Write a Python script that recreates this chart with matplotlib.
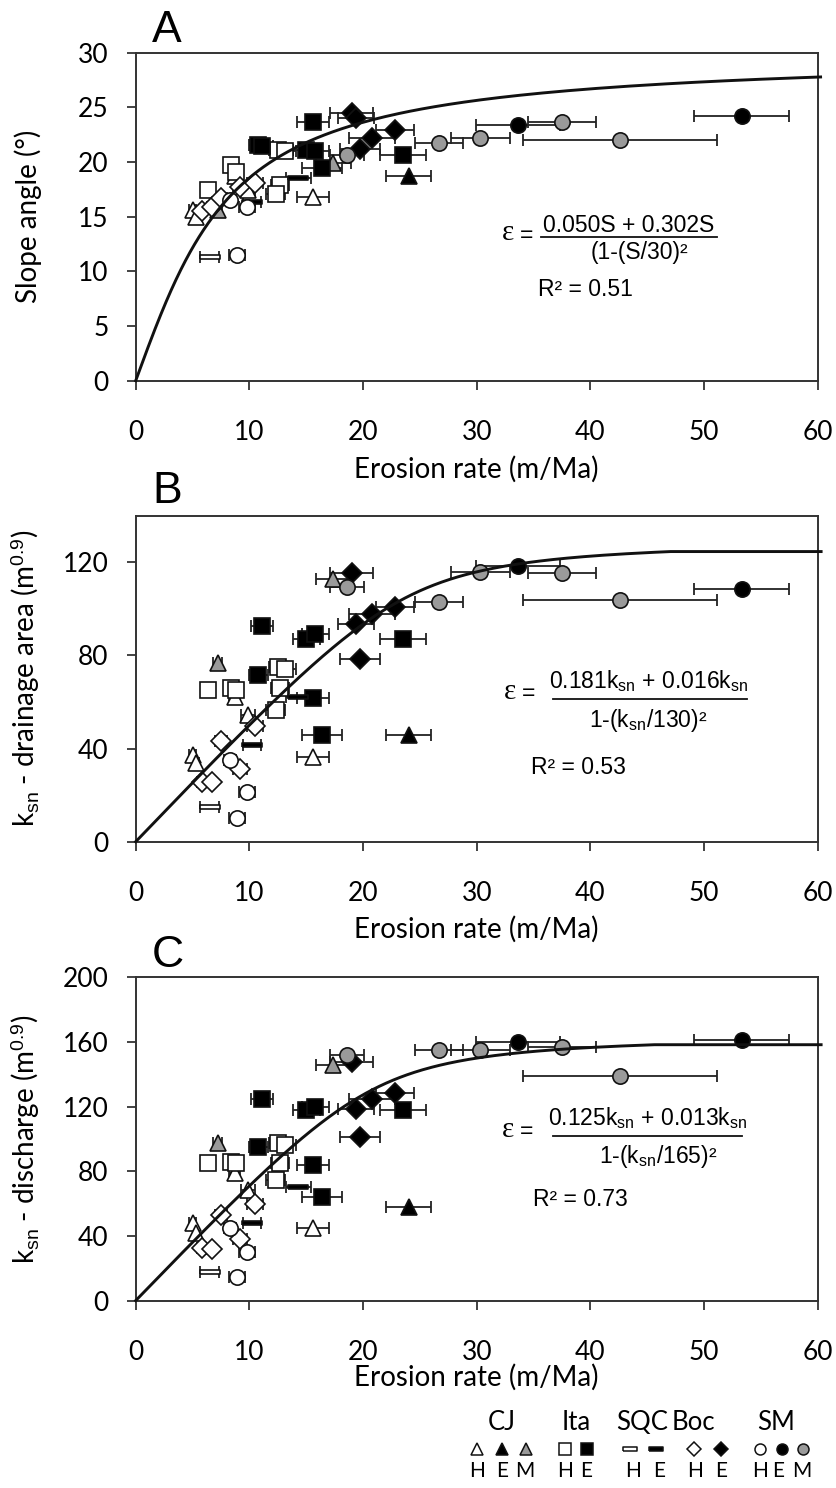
import numpy as np
import matplotlib
matplotlib.use('Agg')
import matplotlib.pyplot as plt

plt.rcParams['font.family'] = ['Lato', 'DejaVu Sans']
plt.rcParams['mathtext.fontset'] = 'custom'
plt.rcParams['mathtext.rm'] = 'Liberation Sans'
plt.rcParams['mathtext.it'] = 'Liberation Sans:italic'

# ---------------- data (erosion rate, error, slope, ksn-area, ksn-discharge) -------------
CJ_H_x = [5.0, 5.3, 8.7, 9.9, 15.6]
CJ_H_err = [0.3, 0.3, 0.5, 0.6, 1.4]
CJ_H_slope = [15.6, 15.0, 18.7, 17.4, 16.8]
CJ_H_ksnA = [37.2, 33.6, 62.0, 54.3, 36.4]
CJ_H_ksnQ = [48.2, 41.6, 78.7, 68.4, 44.7]

CJ_E_x = [24.0]
CJ_E_err = [1.95]
CJ_E_slope = [18.7]
CJ_E_ksnA = [45.7]
CJ_E_ksnQ = [58.1]

CJ_M_x = [7.2, 17.4]
CJ_M_err = [0.4, 1.5]
CJ_M_slope = [15.6, 19.9]
CJ_M_ksnA = [76.7, 112.9]
CJ_M_ksnQ = [97.3, 145.7]

Ita_H_x = [6.4, 8.4, 8.8, 12.5, 13.1, 12.7, 12.3]
Ita_H_err = [0.4, 0.5, 0.5, 0.8, 1.0, 0.8, 0.8]
Ita_H_slope = [17.4, 19.7, 19.1, 21.1, 21.0, 17.9, 17.1]
Ita_H_ksnA = [65.3, 66.2, 65.3, 75.0, 74.3, 66.2, 56.7]
Ita_H_ksnQ = [85.3, 85.9, 85.0, 97.7, 96.2, 85.3, 74.6]

Ita_E_x = [10.8, 11.1, 15.0, 15.8, 15.6, 16.4, 23.5]
Ita_E_err = [0.8, 1.0, 1.2, 1.2, 1.4, 1.75, 2.0]
Ita_E_slope = [21.6, 21.5, 21.1, 21.0, 23.7, 19.5, 20.6]
Ita_E_ksnA = [71.4, 92.7, 87.2, 89.3, 61.9, 45.7, 87.2]
Ita_E_ksnQ = [95.2, 124.5, 117.9, 119.5, 83.9, 64.3, 117.9]

SQC_H_x = [6.5]
SQC_H_err = [0.85]
SQC_H_slope = [11.3]
SQC_H_ksnA = [15.0]
SQC_H_ksnQ = [17.9]

SQC_E_x = [10.2, 14.3]
SQC_E_err = [0.8, 1.1]
SQC_E_slope = [16.3, 18.5]
SQC_E_ksnA = [41.4, 62.0]
SQC_E_ksnQ = [48.2, 70.4]

Boc_H_x = [5.8, 6.7, 7.5, 9.2, 10.5]
Boc_H_err = [0.4, 0.4, 0.5, 0.6, 0.7]
Boc_H_slope = [15.5, 15.9, 16.7, 17.7, 18.1]
Boc_H_ksnA = [25.7, 25.7, 43.3, 31.4, 49.6]
Boc_H_ksnQ = [32.3, 31.7, 52.9, 37.9, 59.7]

Boc_E_x = [19.0, 19.4, 20.8, 22.8, 19.7]
Boc_E_err = [1.9, 1.6, 2.0, 1.7, 1.75]
Boc_E_slope = [24.5, 24.0, 22.2, 22.9, 21.2]
Boc_E_ksnA = [115.3, 93.3, 97.6, 101.0, 78.6]
Boc_E_ksnQ = [147.8, 118.3, 124.5, 128.6, 101.4]

SM_H_x = [8.3, 9.8, 8.9]
SM_H_err = [0.5, 0.7, 0.7]
SM_H_slope = [16.5, 15.9, 11.5]
SM_H_ksnA = [35.3, 21.4, 10.0]
SM_H_ksnQ = [44.7, 30.2, 14.8]

SM_E_x = [33.6, 53.3]
SM_E_err = [3.7, 4.2]
SM_E_slope = [23.4, 24.2]
SM_E_ksnA = [118.6, 108.6]
SM_E_ksnQ = [160.0, 161.2]

SM_M_x = [18.6, 26.7, 30.3, 37.5, 42.6]
SM_M_err = [1.5, 2.1, 2.6, 3.0, 8.5]
SM_M_slope = [20.6, 21.7, 22.2, 23.7, 22.0]
SM_M_ksnA = [109.3, 102.9, 116.0, 115.3, 103.9]
SM_M_ksnQ = [151.9, 155.0, 155.0, 157.0, 139.0]

# fit parameters shown on chart: eps = a*y + b*y / (1 - (y/yc)^2)
fitA = (0.050, 0.302, 30.0, 27.78)
fitB = (0.181, 0.016, 130.0, 124.6)
fitC = (0.125, 0.013, 165.0, 158.3)

# ---------------- styles ----------------
GRAY = '#9a9a9a'
bar_marker = [(-1, -0.25), (1, -0.25), (1, 0.25), (-1, 0.25), (-1, -0.25)]
groups = [
    ('CJ', 'H', '^', 'white', 12, CJ_H_x, CJ_H_err, CJ_H_slope, CJ_H_ksnA, CJ_H_ksnQ),
    ('CJ', 'E', '^', 'black', 12, CJ_E_x, CJ_E_err, CJ_E_slope, CJ_E_ksnA, CJ_E_ksnQ),
    ('CJ', 'M', '^', GRAY, 12, CJ_M_x, CJ_M_err, CJ_M_slope, CJ_M_ksnA, CJ_M_ksnQ),
    ('Ita', 'H', 's', 'white', 11.5, Ita_H_x, Ita_H_err, Ita_H_slope, Ita_H_ksnA, Ita_H_ksnQ),
    ('Ita', 'E', 's', 'black', 11.5, Ita_E_x, Ita_E_err, Ita_E_slope, Ita_E_ksnA, Ita_E_ksnQ),
    ('SQC', 'H', bar_marker, 'white', 14, SQC_H_x, SQC_H_err, SQC_H_slope, SQC_H_ksnA, SQC_H_ksnQ),
    ('SQC', 'E', bar_marker, 'black', 14, SQC_E_x, SQC_E_err, SQC_E_slope, SQC_E_ksnA, SQC_E_ksnQ),
    ('Boc', 'H', 'D', 'white', 10.5, Boc_H_x, Boc_H_err, Boc_H_slope, Boc_H_ksnA, Boc_H_ksnQ),
    ('Boc', 'E', 'D', 'black', 10.5, Boc_E_x, Boc_E_err, Boc_E_slope, Boc_E_ksnA, Boc_E_ksnQ),
    ('SM', 'H', 'o', 'white', 11, SM_H_x, SM_H_err, SM_H_slope, SM_H_ksnA, SM_H_ksnQ),
    ('SM', 'E', 'o', 'black', 11, SM_E_x, SM_E_err, SM_E_slope, SM_E_ksnA, SM_E_ksnQ),
    ('SM', 'M', 'o', GRAY, 11, SM_M_x, SM_M_err, SM_M_slope, SM_M_ksnA, SM_M_ksnQ),
]

W, H = 836, 1488
fig = plt.figure(figsize=(W / 100, H / 100), dpi=100)


def rect(l, r, t, b):
    return [l / W, 1 - b / H, (r - l) / W, (b - t) / H]


axA = fig.add_axes(rect(135.7, 817.7, 52.7, 380.7))
axB = fig.add_axes(rect(135.7, 817.7, 515.7, 841.7))
axC = fig.add_axes(rect(135.7, 817.7, 977.3, 1300.6))
axes = [axA, axB, axC]

ylims = [(0, 30), (0, 140), (0, 200)]
yticks = [np.arange(0, 31, 5), np.arange(0, 121, 40), np.arange(0, 201, 40)]
ylabels = ['Slope angle (°)',
           r'k$_{\rm sn}$ - drainage area (m$^{\rm 0.9}$)',
           r'k$_{\rm sn}$ - discharge (m$^{\rm 0.9}$)']
fits = [fitA, fitB, fitC]

for i, ax in enumerate(axes):
    ax.set_xlim(0, 60)
    ax.set_ylim(*ylims[i])
    ax.set_xticks(np.arange(0, 61, 10))
    ax.set_yticks(yticks[i])
    ax.tick_params(direction='out', length=6.5, width=1.2, labelsize=19,
                   top=False, right=False, color='#222222')
    ax.tick_params(axis='x', pad=22)
    ax.tick_params(axis='y', pad=13)
    for sp in ax.spines.values():
        sp.set_linewidth(1.4)
        sp.set_color('#333333')
    ax.set_xlabel('Erosion rate (m/Ma)', fontsize=20)
    ax.set_ylabel(ylabels[i], fontsize=20)
    ax.yaxis.set_label_coords(-0.137, 0.5)

    for g in groups:
        name, sub, mk, fc, ms, xs, xe, s, ka, kq = g
        yv = [s, ka, kq][i]
        ax.errorbar(xs, yv, xerr=xe, fmt='none', ecolor='#222222',
                    elinewidth=1.3, capsize=4.2, capthick=1.3, zorder=2)
        ax.plot(xs, yv, linestyle='none', marker=mk, markersize=ms,
                markerfacecolor=fc, markeredgecolor='#111111',
                markeredgewidth=1.2, zorder=3)

    a, b, yc, ymax = fits[i]
    yy = np.linspace(0, ymax, 400)
    xx = a * yy + b * yy / (1 - (yy / yc) ** 2)
    keep = xx <= 60.3
    xx, yy = xx[keep], yy[keep]
    if i > 0:
        xx = np.append(xx, 60.3)
        yy = np.append(yy, yy[-1])
    ax.plot(xx, yy, color='#111111', lw=2.1, zorder=4, clip_on=False)

axA.xaxis.set_label_coords(0.5, -0.228)
axB.xaxis.set_label_coords(0.5, -0.228)
axC.xaxis.set_label_coords(0.5, -0.196)

# panel letters
for lab, ypx in [('A', 42), ('B', 503), ('C', 967)]:
    fig.text(152 / W, 1 - ypx / H, lab, fontsize=32, family='Liberation Sans',
             ha='left', va='baseline')


def ftext(x, y, s, **kw):
    fig.text(x / W, 1 - y / H, s, **kw)


def fbar(x0, x1, y):
    fig.add_artist(plt.Line2D([x0 / W, x1 / W], [1 - y / H, 1 - y / H],
                              color='#111111', lw=1.3, transform=fig.transFigure))


EQ = dict(family='Liberation Sans', fontsize=16.5, ha='center', va='center')
EPS = dict(family='Liberation Serif', fontsize=21, ha='center', va='center')

# equation A
ftext(508, 233, 'ε', **EPS)
ftext(527, 236, '=', **EQ)
ftext(629, 226, '0.050S + 0.302S', **EQ)
fbar(541, 717, 237)
ftext(639, 252, '(1-(S/30)²', **EQ)
ftext(585, 290, 'R² = 0.51', **EQ)

# equation B
ftext(510, 692, 'ε', **EPS)
ftext(529, 694, '=', **EQ)
ftext(649, 681, r'0.181k$_{\rm sn}$ + 0.016k$_{\rm sn}$', **EQ)
fbar(553, 747, 699)
ftext(648, 720, r'1-(k$_{\rm sn}$/130)²', **EQ)
ftext(578, 768, 'R² = 0.53', **EQ)

# equation C
ftext(508, 1130, 'ε', **EPS)
ftext(527, 1132, '=', **EQ)
ftext(648, 1118, r'0.125k$_{\rm sn}$ + 0.013k$_{\rm sn}$', **EQ)
fbar(553, 742, 1136)
ftext(658, 1156, r'1-(k$_{\rm sn}$/165)²', **EQ)
ftext(580, 1200, 'R² = 0.73', **EQ)

# ---------------- legend ----------------
leg_groups = ['CJ', 'Ita', 'SQC', 'Boc', 'SM']
leg_label_x = [501.7, 575.8, 641.7, 693.3, 775.7]
leg_items_x = {'CJ': [476.7, 501.7, 526.0], 'Ita': [565.0, 587.3], 'SQC': [630.0, 656.0],
               'Boc': [694.0, 720.7], 'SM': [760.0, 782.3, 803.3]}
leg_letters_x = {'CJ': [477, 502, 525], 'Ita': [565, 586], 'SQC': [633, 659],
                 'Boc': [695, 721], 'SM': [760, 778, 802]}
lax = fig.add_axes([0, 0, 1, 1], facecolor='none')
lax.set_xlim(0, W)
lax.set_ylim(H, 0)
lax.axis('off')
for gname, lx in zip(leg_groups, leg_label_x):
    lax.text(lx, 1423, gname, fontsize=18.5, ha='center', va='center')
    subs = [g for g in groups if g[0] == gname]
    for g, mx, tx in zip(subs, leg_items_x[gname], leg_letters_x[gname]):
        _, sub, mk, fc, ms, *_rest = g
        lax.plot([mx], [1449], linestyle='none', marker=mk, markersize=ms * 0.72,
                 markerfacecolor=fc, markeredgecolor='#111111', markeredgewidth=1.1)
        lax.text(tx, 1471, sub, fontsize=15, ha='center', va='center')

fig.savefig('out.png', dpi=100)
